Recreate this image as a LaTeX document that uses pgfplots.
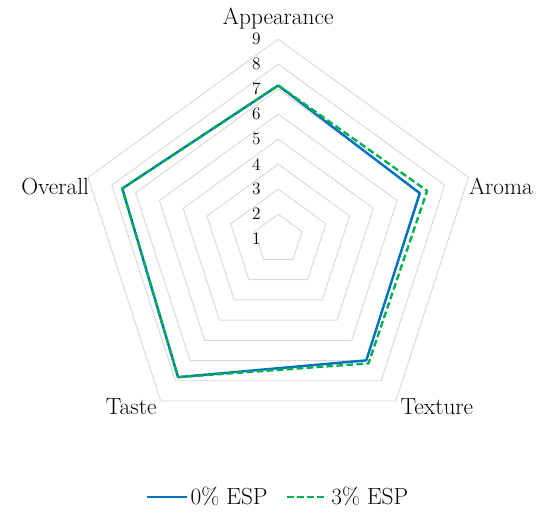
\documentclass[border=0pt]{standalone}
\usepackage{pgfplots}
\usepgfplotslibrary{polar}
\pgfplotsset{compat=1.18}
\definecolor{cblue}{HTML}{0070C0}
\definecolor{cgreen}{HTML}{00B050}
\definecolor{cgrid}{HTML}{D9D9D9}
\begin{document}
\begin{tikzpicture}
\begin{polaraxis}[
    width=300pt, height=300pt, scale only axis,
    xmin=0, xmax=360, ymin=0, ymax=8,
    hide axis, clip=false,
    y filter/.expression={y-1},
    legend columns=2,
    legend style={draw=none, fill=none, at={(0.5,-0.145)}, anchor=center,
        font=\fontsize{17.5}{20}\selectfont,
        /tikz/every even column/.append style={column sep=12pt}},
    legend image code/.code={\draw[#1] (0pt,0pt) -- (30pt,0pt);},
]
% pentagon rings 2..9 (centre = 1)
\pgfplotsinvokeforeach{2,...,9}{
  \addplot[cgrid, line width=0.7pt, forget plot] coordinates
    {(90,#1) (18,#1) (306,#1) (234,#1) (162,#1) (90,#1)};
}
% Appearance, Aroma, Texture, Taste, Overall
\addplot[cblue, line width=1.8pt, line join=round] coordinates
  {(90,7.15) (18,6.95) (306,6.99) (234,7.82) (162,7.56) (90,7.15)};
\addlegendentry{0\% ESP}
\addplot[cgreen, line width=1.8pt, line join=round, dash pattern=on 5pt off 2.5pt] coordinates
  {(90,7.15) (18,7.26) (306,7.14) (234,7.82) (162,7.56) (90,7.15)};
\addlegendentry{3\% ESP}
\coordinate (c) at (axis cs:0,0);
\end{polaraxis}

\begin{scope}[font=\fontsize{17.5}{20}\selectfont]
\node at ([shift={(0pt,165.7pt)}]c) {Appearance};
\node at ([shift={(167pt,39.8pt)}]c) {Aroma};
\node at ([shift={(119pt,-125.5pt)}]c) {Texture};
\node at ([shift={(-110.3pt,-125.5pt)}]c) {Taste};
\node at ([shift={(-167.3pt,39.8pt)}]c) {Overall};
\end{scope}
\foreach \v in {1,...,9}{
  \node[anchor=east, inner sep=0pt, font=\fontsize{13}{15}\selectfont]
    at ([shift={(-13pt,{(\v-1)*18.75pt})}]c) {\v};
}

\pgfresetboundingbox
\path ([shift={(-208.7pt,-211.4pt)}]c) rectangle ([shift={(203.8pt,179.4pt)}]c);
\end{tikzpicture}
\end{document}
